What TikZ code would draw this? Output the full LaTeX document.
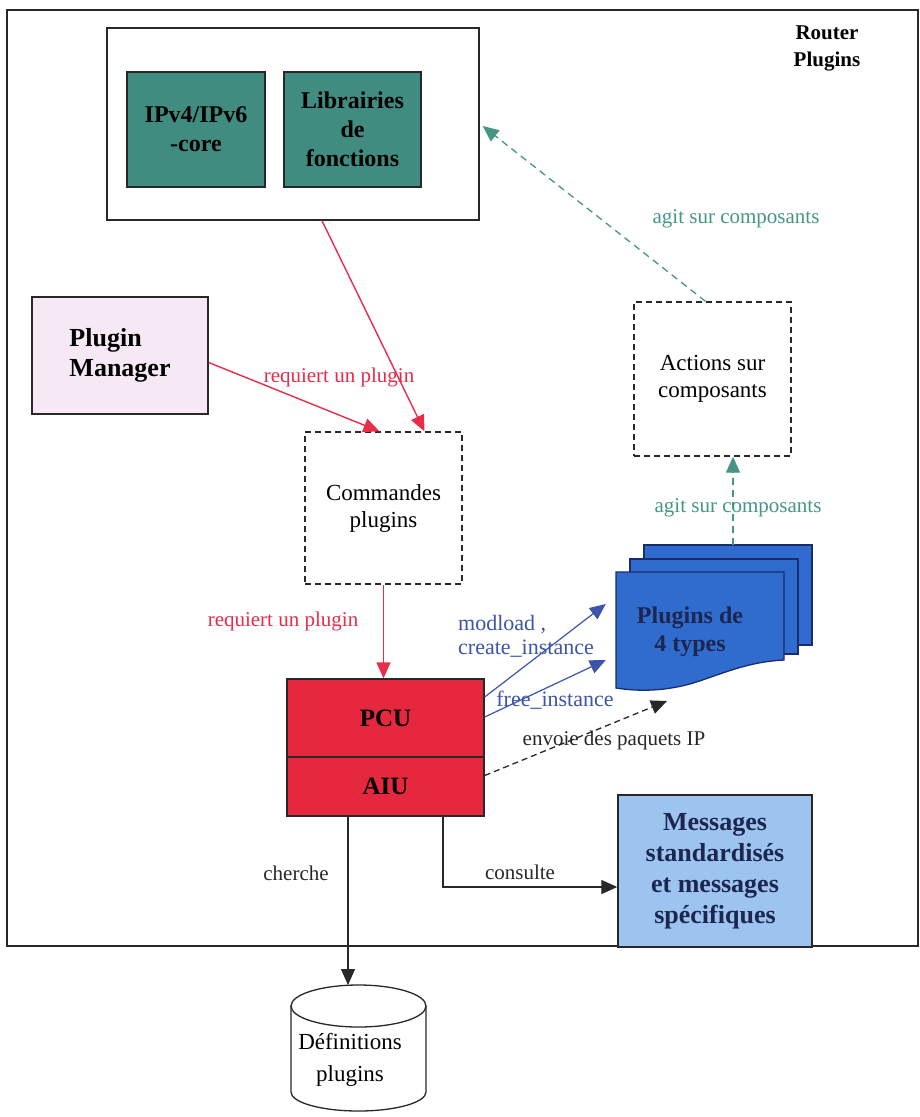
\documentclass[tikz,border=0pt]{standalone}
\usepackage{fontspec}
\setmainfont{Liberation Serif}
\usetikzlibrary{arrows.meta,shapes.geometric}
\definecolor{tealbox}{RGB}{64,140,128}
\definecolor{tealarr}{RGB}{70,150,135}
\definecolor{redbox}{RGB}{230,40,62}
\definecolor{redarr}{RGB}{232,45,75}
\definecolor{pinkbox}{RGB}{246,232,244}
\definecolor{plugblue}{RGB}{48,108,205}
\definecolor{plugedge}{RGB}{25,45,110}
\definecolor{msgblue}{RGB}{156,196,238}
\definecolor{navy}{RGB}{28,38,80}
\definecolor{bluelab}{RGB}{60,85,170}
\definecolor{darkline}{RGB}{40,40,40}
\tikzset{
  box/.style={draw=darkline, line width=1.4pt, rectangle, inner sep=0pt, align=center},
  dbox/.style={draw=darkline, line width=1.3pt, dash pattern=on 6pt off 4pt, rectangle, inner sep=0pt, align=center,
     font=\fontsize{23}{27}\selectfont},
  boldtxt/.style={font=\fontsize{24}{29}\selectfont\bfseries},
  lab/.style={font=\fontsize{21}{25}\selectfont, inner sep=1pt},
  tip/.style={-{Triangle[length=16pt,width=14pt]}},
  redline/.style={tip, draw=redarr, line width=1.4pt},
  tealline/.style={tip, draw=tealarr, line width=1.3pt, dash pattern=on 7pt off 5pt},
  blueline/.style={tip, draw=bluelab, line width=1.2pt},
  blackline/.style={tip, draw=darkline, line width=1.3pt},
}
\begin{document}
\begin{tikzpicture}[x=1pt,y=-1pt]
\useasboundingbox (0,0) rectangle (920,1117);
\fill[white] (0,0) rectangle (920,1117);

% outer frame
\node[draw=darkline, line width=1.8pt, minimum width=911pt, minimum height=936pt, inner sep=0pt] (router) at (462.5,478) {};
\node[font=\fontsize{21}{27}\selectfont\bfseries, align=center] (routerlab) at (827,48) {Router\\Plugins};

% core box
\node[box, fill=white, minimum width=372pt, minimum height=192pt] (core) at (293,124) {};
\node[box, fill=tealbox, boldtxt, minimum width=138pt, minimum height=115pt] (ipv) at (196,129.5) {IPv4/IPv6\\-core};
\node[box, fill=tealbox, boldtxt, minimum width=137pt, minimum height=115pt] (lib) at (352.5,129.5) {Librairies\\de\\fonctions};

% plugin manager
\node[box, fill=pinkbox, font=\fontsize{26}{30}\selectfont\bfseries, align=left, minimum width=176pt, minimum height=117pt] (pm) at (120,355.5) {Plugin\\Manager};

% commandes
\node[dbox, minimum width=157pt, minimum height=152pt] (cmd) at (383.5,508) {Commandes\\plugins};

% actions
\node[dbox, minimum width=157pt, minimum height=154pt] (act) at (712.5,379) {Actions sur\\composants};

% PCU / AIU
\node[box, fill=redbox, font=\fontsize{25}{30}\selectfont\bfseries, minimum width=197pt, minimum height=78pt] (pcu) at (385.5,718) {PCU};
\node[box, fill=redbox, font=\fontsize{25}{30}\selectfont\bfseries, minimum width=197pt, minimum height=59pt] (aiu) at (385.5,786.5) {AIU};

% plugins stack
\fill[plugblue, draw=plugedge, line width=1.3pt] (644,545) rectangle (812,645);
\fill[plugblue, draw=plugedge, line width=1.3pt] (630,559) rectangle (798,654);
\fill[plugblue, draw=plugedge, line width=1.3pt] (616,572) -- (784,572) -- (784,660)
   .. controls (745,662) and (720,675) .. (690,684)
   .. controls (660,692) and (635,691) .. (616,688) -- cycle;
\node[text=navy, font=\fontsize{24}{28}\selectfont\bfseries, align=center, inner sep=0pt, minimum width=168pt, minimum height=116pt] (plug) at (690,632) {Plugins de\\4 types};
\coordinate (plugtop) at (733,545);

% messages
\node[box, fill=msgblue, text=navy, font=\fontsize{26}{31}\selectfont\bfseries, minimum width=194pt, minimum height=152pt] (msg) at (715,871) {Messages\\standardisés\\et messages\\spécifiques};

% database cylinder
\fill[white, draw=darkline, line width=1.3pt] (291,1006) -- (291,1092) arc[start angle=180, end angle=360, x radius=67.5, y radius=-19] -- (426,1006);
\draw[darkline, line width=1.3pt] (358.5,1006) ellipse[x radius=67.5, y radius=21];
\node[font=\fontsize{23}{32}\selectfont, align=center, inner sep=0pt] (db) at (350,1060) {Définitions\\plugins};
\coordinate (dbtop) at (348,985);

% red arrows
\draw[redline] ([yshift=-7pt]pm.east) -- ([xshift=-4pt]cmd.north);
\draw[redline] ([xshift=29pt]core.south) -- ([xshift=41pt]cmd.north);
\draw[redline] (cmd.south) -- (cmd.south |- pcu.north);
\node[lab, text=redarr] (l1) at (339,377) {requiert un plugin};
\node[lab, text=redarr] (l2) at (283,621) {requiert un plugin};

% teal arrows
\draw[tealline] ([xshift=-7pt]act.north) -- ([xshift=3pt,yshift=-2pt]core.east);
\draw[tealline] (plugtop) -- (plugtop |- act.south);
\node[lab, text=tealarr] (l3) at (736,219) {agit sur composants};
\node[lab, text=tealarr] (l4) at (738,508) {agit sur composants};

% blue arrows
\draw[blueline] ([yshift=21pt]pcu.east) -- ([yshift=28pt]plug.west);
\draw[blueline] ([yshift=1pt]pcu.east) -- ([yshift=-28pt]plug.west);
\node[lab, text=bluelab, align=left, anchor=west, font=\fontsize{22}{24}\selectfont] (l5) at (457,636) {modload ,\\create\_instance};
\node[lab, text=bluelab, font=\fontsize{22}{24}\selectfont] (l6) at (555,700) {free\_instance};

% black dashed arrow
\draw[blackline, dash pattern=on 6pt off 4pt] ([yshift=11pt]aiu.east) -- (667,701);
\node[lab, text=darkline] (l7) at (614,740) {envoie des paquets IP};

% consulte / cherche
\draw[blackline] ([xshift=57.5pt]aiu.south) |- ([yshift=-16pt]msg.west);
\node[lab, text=darkline] (l8) at (520,872) {consulte};
\draw[blackline] ([xshift=-37.5pt]aiu.south) -- (dbtop);
\node[lab, text=darkline] (l9) at (296,873) {cherche};
\end{tikzpicture}
\end{document}
